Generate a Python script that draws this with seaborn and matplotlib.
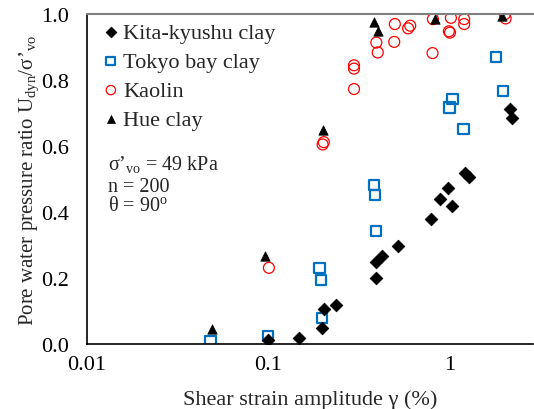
import numpy as np
import pandas as pd
import matplotlib
matplotlib.use("Agg")
import matplotlib.pyplot as plt
import seaborn as sns
from matplotlib.ticker import LogLocator, MultipleLocator, FixedLocator, FixedFormatter, FormatStrFormatter

# Kita-kyushu clay
kita_x = [0.1, 0.149, 0.198, 0.204, 0.238, 0.396, 0.396, 0.425, 0.521, 0.793,
          0.891, 0.98, 1.035, 1.215, 1.294, 2.17, 2.22]
kita_y = [0.012, 0.018, 0.048, 0.106, 0.119, 0.200, 0.250, 0.266, 0.298, 0.379,
          0.440, 0.473, 0.419, 0.517, 0.505, 0.712, 0.684]

# Tokyo bay clay
tokyo_x = [0.048, 0.1, 0.192, 0.196, 0.198, 0.386, 0.39, 0.393, 1.004, 1.043,
           1.2, 1.82, 1.98]
tokyo_y = [0.010, 0.025, 0.230, 0.195, 0.078, 0.482, 0.452, 0.343, 0.717, 0.742,
           0.652, 0.871, 0.768]

# Kaolin
kaolin_x = [0.101, 0.2, 0.203, 0.298, 0.298, 0.298, 0.396, 0.403, 0.501, 0.497,
            0.609, 0.593, 0.813, 0.809, 1.022, 0.996, 1.01, 1.21, 1.21, 2.03, 2.05]
kaolin_y = [0.231, 0.605, 0.612, 0.845, 0.835, 0.773, 0.914, 0.884, 0.970, 0.916,
            0.965, 0.957, 0.985, 0.882, 0.989, 0.948, 0.944, 0.985, 0.970, 1.000, 0.987]

# Hue clay
hue_x = [0.049, 0.096, 0.2, 0.382, 0.405, 0.837, 1.95]
hue_y = [0.046, 0.268, 0.648, 0.975, 0.949, 0.985, 0.993]

x_ticks = [0.01, 0.1, 1]
x_tick_labels = ["0.01", "0.1", "1"]

series = [
    ("Kita-kyushu clay", kita_x, kita_y),
    ("Tokyo bay clay", tokyo_x, tokyo_y),
    ("Kaolin", kaolin_x, kaolin_y),
    ("Hue clay", hue_x, hue_y),
]
df = pd.concat(
    [pd.DataFrame({"strain": x, "ratio": y, "soil": name}) for name, x, y in series],
    ignore_index=True,
)

sns.set_style("white")
SERIF = ["Liberation Serif", "DejaVu Serif"]
plt.rcParams["font.family"] = SERIF
plt.rcParams["mathtext.fontset"] = "custom"
plt.rcParams["mathtext.rm"] = "Liberation Serif"
plt.rcParams["mathtext.it"] = "Liberation Serif:italic"

fig = plt.figure(figsize=(5.34, 4.10), dpi=100)
ax = fig.add_axes([0.163, 0.1585, 0.835, 0.8045])

styles = {
    "Kita-kyushu clay": dict(marker="D", s=42, color="black", edgecolor="black", linewidth=0.5),
    "Tokyo bay clay": dict(marker="s", s=55, facecolor="none", edgecolor="#0070C0", linewidth=1.6),
    "Kaolin": dict(marker="o", s=62, facecolor="none", edgecolor="#FF0000", linewidth=0.9),
    "Hue clay": dict(marker="^", s=46, color="black", edgecolor="black", linewidth=0.5),
}
for name in ["Kaolin", "Tokyo bay clay", "Kita-kyushu clay", "Hue clay"]:
    sub = df[df["soil"] == name]
    sns.scatterplot(data=sub, x="strain", y="ratio", ax=ax, label=name, **styles[name])

ax.set_xscale("log")
ax.set_xlim(0.01, 2.9)
ax.set_ylim(0, 1.0)

ax.xaxis.set_major_locator(FixedLocator(x_ticks))
ax.xaxis.set_major_formatter(FixedFormatter(x_tick_labels))
ax.xaxis.set_minor_locator(LogLocator(base=10, subs=np.arange(2, 10)))
ax.yaxis.set_major_locator(MultipleLocator(0.2))
ax.yaxis.set_minor_locator(MultipleLocator(0.1))
ax.yaxis.set_major_formatter(FormatStrFormatter("%.1f"))

ax.tick_params(axis="both", which="both", direction="in", labelsize=16, colors="black",
               labelfontfamily="Liberation Serif")
ax.tick_params(axis="both", which="major", length=5, width=0.8)
ax.tick_params(axis="both", which="minor", length=4, width=0.8)
ax.tick_params(axis="x", which="major", pad=8)
ax.tick_params(axis="y", which="major", pad=13)
ax.tick_params(axis="x", which="minor", labelbottom=False)

for side in ["left", "bottom"]:
    ax.spines[side].set_color("black")
    ax.spines[side].set_linewidth(1.2)
ax.spines["top"].set_color("#808080")
ax.spines["top"].set_linewidth(1.5)
ax.spines["right"].set_visible(False)

ax.set_xlabel("Shear strain amplitude γ (%)", fontsize=16, labelpad=11, family=SERIF)
ax.set_ylabel("Pore water pressure ratio U$_{\\rm dyn}$/σ’$_{\\rm vo}$", fontsize=15,
              family=SERIF)
ax.yaxis.set_label_coords(-0.103, 0.5)

handles, labels = ax.get_legend_handles_labels()
order = ["Kita-kyushu clay", "Tokyo bay clay", "Kaolin", "Hue clay"]
hmap = dict(zip(labels, handles))
ax.legend([hmap[k] for k in order], order, loc="upper left", frameon=False,
          prop={"family": SERIF, "size": 16},
          handlelength=0.8, handletextpad=0.15, labelspacing=0.39,
          borderaxespad=0.0, borderpad=0.35, markerscale=0.85,
          bbox_to_anchor=(0.016, 1.0))

note_lines = ["σ’$_{\\rm vo}$ = 49 kPa", "n = 200", "θ = 90$^{\\rm o}$"]
note_y = [0.530, 0.464, 0.406]
for txt, yy in zip(note_lines, note_y):
    ax.text(0.047, yy, txt, transform=ax.transAxes, fontsize=14.5,
            va="baseline", ha="left", family=SERIF)

fig.savefig("out.png", dpi=100)
